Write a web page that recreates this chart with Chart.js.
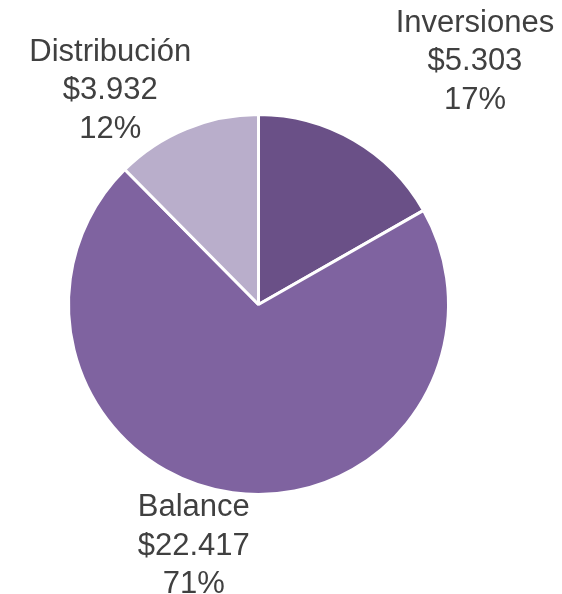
<!DOCTYPE html>
<html>
<head>
<meta charset="utf-8">
<script src="https://cdn.jsdelivr.net/npm/chart.js@4"></script>
<style>
  html, body { margin: 0; padding: 0; background: #fff; }
  #wrap { width: 562px; height: 594px; }
</style>
</head>
<body>
<div id="wrap"><canvas id="pieChart" width="562" height="594"></canvas></div>
<script>
// Datos del gráfico
const categories = ['Inversiones', 'Balance', 'Distribución'];
const amounts = [5303, 22417, 3932];
const amountLabels = ['$5.303', '$22.417', '$3.932'];
const percentLabels = ['17%', '71%', '12%'];
const sliceColors = ['#6a5087', '#7f63a0', '#b9aecb'];

// Plugin para dibujar las etiquetas fuera de cada porción
const outsideLabels = {
    id: 'outsideLabels',
    afterDatasetsDraw(chart, args, opts) {
        const ctx = chart.ctx;
        const arcs = chart.getDatasetMeta(0).data;
        ctx.save();
        ctx.font = opts.font;
        ctx.fillStyle = opts.color;
        ctx.textAlign = 'center';
        ctx.textBaseline = 'alphabetic';
        arcs.forEach((arc, i) => {
            const mid = (arc.startAngle + arc.endAngle) / 2;
            // punto del borde exterior en el ángulo medio
            const ex = arc.x + Math.cos(mid) * arc.outerRadius;
            const ey = arc.y + Math.sin(mid) * arc.outerRadius;
            const nudge = opts.nudge[i];
            const cx = ex + nudge[0];
            const cy = ey + nudge[1];
            const lines = [categories[i], amountLabels[i], percentLabels[i]];
            lines.forEach((line, k) => {
                ctx.fillText(line, cx, cy + (k - 1) * opts.lineHeight);
            });
        });
        ctx.restore();
    }
};

const ctx = document.getElementById('pieChart').getContext('2d');
new Chart(ctx, {
    type: 'pie',
    data: {
        labels: categories,
        datasets: [{
            data: amounts,
            backgroundColor: sliceColors,
            borderColor: '#ffffff',
            borderWidth: 3
        }]
    },
    options: {
        responsive: false,
        animation: false,
        layout: {
            padding: { left: 67, right: 112, top: 113, bottom: 98 }
        },
        plugins: {
            legend: { display: false },
            tooltip: { enabled: false },
            outsideLabels: {
                font: '31px "Liberation Sans", Arial, sans-serif',
                color: '#404040',
                lineHeight: 38.5,
                nudge: [[121, -70], [-39, 62], [-76, -29.5]]
            }
        }
    },
    plugins: [outsideLabels]
});
</script>
</body>
</html>
